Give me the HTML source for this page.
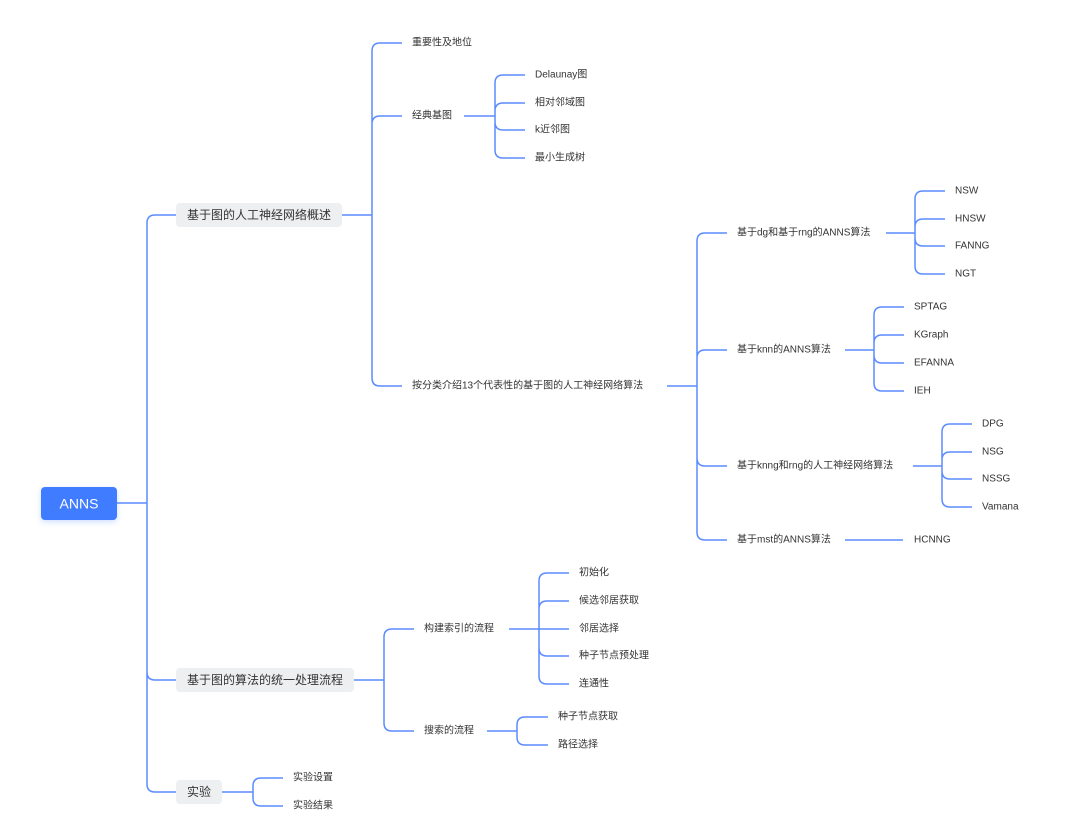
<!DOCTYPE html>
<html><head><meta charset="utf-8"><style>
html,body{margin:0;padding:0;background:#fff;}
svg text{font-family:"Liberation Sans","Noto Sans CJK SC",sans-serif;font-size:10px;fill:#333;dominant-baseline:central;}
</style></head><body>
<svg width="1080" height="830" viewBox="0 0 1080 830" xmlns="http://www.w3.org/2000/svg">
<defs><filter id="sh" x="-20%" y="-30%" width="140%" height="170%"><feDropShadow dx="0" dy="2" stdDeviation="3" flood-color="#3f7bff" flood-opacity="0.25"/></filter></defs>
<g fill="none" stroke="#5b8cff" stroke-width="1.5">
<path d="M117 503H147M147 503V223Q147 215 155 215H176M147 503V672Q147 680 155 680H176M147 503V784Q147 792 155 792H176"/>
<path d="M342 215H372M372 215V51Q372 43 380 43H402M372 215V124Q372 116 380 116H402M372 215V378Q372 386 380 386H402"/>
<path d="M464 116H495M495 116V83Q495 75 503 75H525M495 116V111Q495 103 503 103H525M495 116V122Q495 130 503 130H525M495 116V150Q495 158 503 158H525"/>
<path d="M667 386H697M697 386V241Q697 233 705 233H727M697 386V358Q697 350 705 350H727M697 386V458Q697 466 705 466H727M697 386V532Q697 540 705 540H727"/>
<path d="M886 233H915M915 233V199Q915 191 923 191H945M915 233V227Q915 219 923 219H945M915 233V238Q915 246 923 246H945M915 233V266Q915 274 923 274H945"/>
<path d="M845 350H874M874 350V315Q874 307 882 307H904M874 350V343Q874 335 882 335H904M874 350V355Q874 363 882 363H904M874 350V383Q874 391 882 391H904"/>
<path d="M913 466H942M942 466V432Q942 424 950 424H972M942 466V460Q942 452 950 452H972M942 466V471Q942 479 950 479H972M942 466V499Q942 507 950 507H972"/>
<path d="M845 540H903"/>
<path d="M354 680H384M384 680V637Q384 629 392 629H414M384 680V723Q384 731 392 731H414"/>
<path d="M509 629H539M539 629V581Q539 573 547 573H569M539 629V609Q539 601 547 601H569M539 629H569M539 629V648Q539 656 547 656H569M539 629V676Q539 684 547 684H569"/>
<path d="M487 731H517M517 731V725Q517 717 525 717H548M517 731V737Q517 745 525 745H548"/>
<path d="M222 792H253M253 792V786Q253 778 261 778H283M253 792V798Q253 806 261 806H283"/>
</g>
<rect x="41" y="487" width="76" height="33" rx="4" fill="#3f7bff" filter="url(#sh)"/>
<text x="79" y="503.5" text-anchor="middle" style="fill:#fff;font-size:14px">ANNS</text>
<rect x="176" y="203" width="166" height="24" rx="4" fill="#eeeff1"/>
<text x="259" y="215" text-anchor="middle" style="font-size:12px">基于图的人工神经网络概述</text>
<rect x="176" y="668" width="178" height="24" rx="4" fill="#eeeff1"/>
<text x="265" y="680" text-anchor="middle" style="font-size:12px">基于图的算法的统一处理流程</text>
<rect x="176" y="780" width="46" height="24" rx="4" fill="#eeeff1"/>
<text x="199" y="792" text-anchor="middle" style="font-size:12px">实验</text>
<text x="412" y="43">重要性及地位</text>
<text x="412" y="116">经典基图</text>
<text x="412" y="386">按分类介绍13个代表性的基于图的人工神经网络算法</text>
<text x="535" y="75">Delaunay图</text>
<text x="535" y="103">相对邻域图</text>
<text x="535" y="130">k近邻图</text>
<text x="535" y="158">最小生成树</text>
<text x="737" y="233">基于dg和基于rng的ANNS算法</text>
<text x="737" y="350">基于knn的ANNS算法</text>
<text x="737" y="466">基于knng和rng的人工神经网络算法</text>
<text x="737" y="540">基于mst的ANNS算法</text>
<text x="955" y="191">NSW</text>
<text x="955" y="219">HNSW</text>
<text x="955" y="246">FANNG</text>
<text x="955" y="274">NGT</text>
<text x="914" y="307">SPTAG</text>
<text x="914" y="335">KGraph</text>
<text x="914" y="363">EFANNA</text>
<text x="914" y="391">IEH</text>
<text x="982" y="424">DPG</text>
<text x="982" y="452">NSG</text>
<text x="982" y="479">NSSG</text>
<text x="982" y="507">Vamana</text>
<text x="914" y="540">HCNNG</text>
<text x="424" y="629">构建索引的流程</text>
<text x="424" y="731">搜索的流程</text>
<text x="579" y="573">初始化</text>
<text x="579" y="601">候选邻居获取</text>
<text x="579" y="629">邻居选择</text>
<text x="579" y="656">种子节点预处理</text>
<text x="579" y="684">连通性</text>
<text x="558" y="717">种子节点获取</text>
<text x="558" y="745">路径选择</text>
<text x="293" y="778">实验设置</text>
<text x="293" y="806">实验结果</text>
</svg>
</body></html>
